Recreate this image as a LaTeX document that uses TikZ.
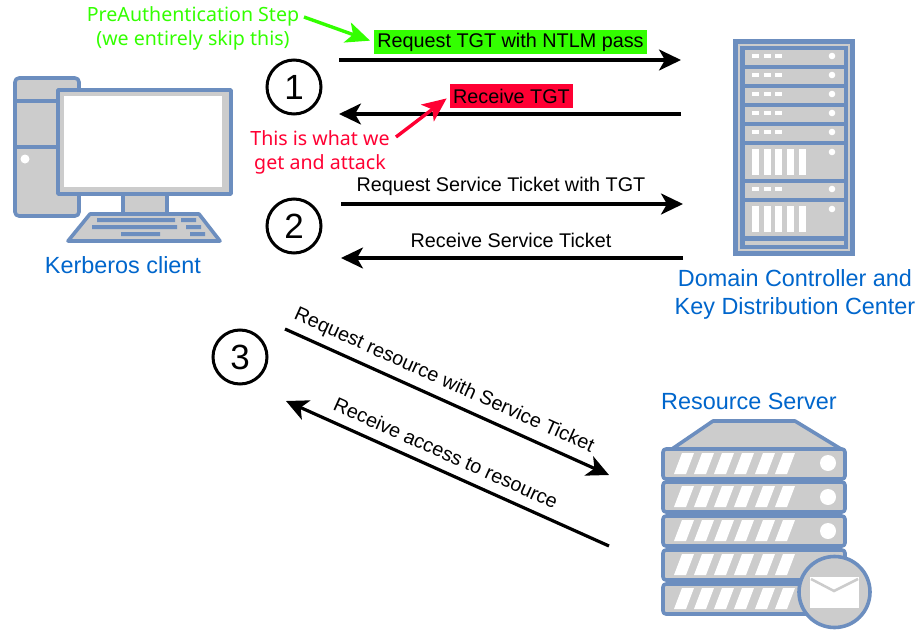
\documentclass[tikz,border=0pt]{standalone}
\usepackage{fontspec}
\setmainfont{Liberation Sans}
\newfontfamily\notefont{Noto Sans}
\usetikzlibrary{arrows.meta}
\definecolor{iconblue}{HTML}{6C8EBF}
\definecolor{icongray}{HTML}{CCCCCC}
\definecolor{labelblue}{HTML}{0066CC}
\definecolor{notegreen}{HTML}{33FF00}
\definecolor{notered}{HTML}{FF0033}
\tikzset{
  x=1pt,y=-1pt,
  flow/.style={line width=3.2pt,black,-{Stealth[length=22pt,width=21pt,inset=6pt]}},
  noteline/.style={line width=3.4pt,shorten >=4pt,-{Stealth[length=24pt,width=21pt,inset=6pt]}},
  stepmark/.style={circle,draw=black,line width=3pt,fill=white,minimum size=54pt,inner sep=0pt,font=\fontsize{35}{35}\selectfont},
  msg/.style={font=\fontsize{19.8}{22}\selectfont,inner sep=0pt,text=black},
  boxmsg/.style={msg,minimum height=24pt,inner sep=0pt},
  iconlabel/.style={font=\fontsize{23.4}{28}\selectfont,text=labelblue,align=center,inner sep=0pt},
  note/.style={font=\notefont\fontsize{19.6}{24}\selectfont,align=center,inner sep=0pt},
  icon/.style={draw=iconblue,fill=icongray,line width=3.6pt,line join=round},
  panel/.style={fill=icongray,draw=none},
  dots/.style={fill=white,draw=none},
}
\newcommand{\rackled}[1]{%
  \fill[dots] (752,#1) rectangle ++(7,4);
  \fill[dots] (764,#1) rectangle ++(7,4);
  \fill[dots] (775,#1) rectangle ++(7,4);
  \fill[dots] (832,#1+2) circle (3.3);
}
\newcommand{\rackslim}[1]{\fill[panel] (745,#1) rectangle (844,#1+15); \rackled{#1+4}}
\newcommand{\rackwide}[1]{%
  \fill[panel] (745,#1) rectangle (844,#1+34);
  \foreach \sx in {752,764,775,787,799}{\fill[dots] (\sx,#1+4) rectangle ++(7,26);}
  \fill[dots] (832,#1+7) circle (3.3);
}
\newcommand{\slab}[2]{%
  \draw[icon,rounded corners=3pt] (663,#1) rectangle (845,#1+30);
  \foreach \sx in {674,694,714,734,755,775}{%
    \fill[dots] (\sx,#1+25) -- (\sx+8,#1+4) -- (\sx+20,#1+4) -- (\sx+12,#1+25) -- cycle;}
  #2
}
\begin{document}
\begin{tikzpicture}
\useasboundingbox (0,0) rectangle (924,632);
\fill[white] (0,0) rectangle (924,632);

% Kerberos client icon
\draw[icon,rounded corners=4pt] (15,78) rectangle (79,216);
\draw[iconblue,line width=3.6pt] (15,101) -- (60,101) (15,147) -- (60,147);
\fill[dots] (25,159) circle (4.5);
\draw[icon] (123,190) rectangle (167,214);
\draw[icon] (58,90) rectangle (231,194);
\fill[white] (64,96) rectangle (222,187);
\draw[icon] (90,214) -- (199,214) -- (220,241) -- (68,241) -- cycle;
\fill[iconblue] (97,218) rectangle (175,222) (181,218) rectangle (196,222)
  (92,225) rectangle (177,229) (186,225) rectangle (201,229)
  (121,232) rectangle (160,236) (190,232) rectangle (205,236);
\node[iconlabel] (client) at (123,265) {Kerberos client};

% Domain controller rack
\fill[iconblue] (733,39) rectangle (855,256);
\fill[icongray] (738,44) rectangle (850,251);
\fill[iconblue] (740,46) rectangle (848,249);
\rackslim{50}\rackslim{69}\rackslim{88}\rackslim{107}\rackslim{126}
\rackwide{145}
\rackslim{183}
\rackwide{202}
\fill[panel] (745,241) rectangle (844,245);
\node[iconlabel] (dc) at (795,294.5) {Domain Controller and\\Key Distribution Center};

% Resource server
\draw[icon] (672,449) -- (713,421) -- (795,421) -- (841,449) -- cycle;
\slab{449}{\fill[dots] (828,463) circle (8);}
\slab{482}{\fill[dots] (828,497) circle (8);}
\slab{516}{\fill[dots] (828,531) circle (8);}
\slab{550}{}
\slab{584}{}
\draw[icon] (834.5,592) circle (35.5);
\fill[dots] (810,577) rectangle (859,608);
\draw[icongray,line width=2.5pt] (811,579) -- (834,591) -- (858,579);
\node[iconlabel] (res) at (749,401) {Resource Server};

% Anchors of the connectors
\coordinate (a1s) at (339,60);  \coordinate (a1e) at (681,60);
\coordinate (a2s) at (681,114); \coordinate (a2e) at (339,114);
\coordinate (a3s) at (341,204); \coordinate (a3e) at (683,204);
\coordinate (a4s) at (683,258); \coordinate (a4e) at (341,258);
\coordinate (a5s) at (285,329); \coordinate (a5e) at (609,475);
\coordinate (a6s) at (609,546); \coordinate (a6e) at (286,401);
\draw[flow] (a1s) -- (a1e);
\draw[flow] (a2s) -- (a2e);
\draw[flow] (a3s) -- (a3e);
\draw[flow] (a4s) -- (a4e);
\draw[flow] (a5s) -- (a5e);
\draw[flow] (a6s) -- (a6e);

% Step numbers
\node[stepmark] (s1) at (294,87) {1};
\node[stepmark] (s2) at (294,226) {2};
\node[stepmark] (s3) at (240,357) {3};

% Message labels
\node[boxmsg,fill=notegreen,minimum width=273pt] (m1) at (510.5,42) {Request TGT with NTLM pass};
\node[boxmsg,fill=notered,minimum width=123pt] (m2) at (511.5,96) {Receive TGT};
\node[msg] (m3) at (501,186) {Request Service Ticket with TGT};
\node[msg] (m4) at (511,240) {Receive Service Ticket};
\node[msg,rotate=-24.2] (m5) at (444,381) {Request resource with Service Ticket};
\node[msg,rotate=-24.2] (m6) at (446,453) {Receive access to resource};

% Annotations
\node[note,text=notegreen] (n1) at (193,28) {PreAuthentication Step\\(we entirely skip this)};
\node[note,text=notered] (n2) at (320,152) {This is what we\\get and attack};
\draw[noteline,notegreen] (304,17) -- (m1.west);
\draw[noteline,notered] (396,137) -- (m2.west);
\end{tikzpicture}
\end{document}
